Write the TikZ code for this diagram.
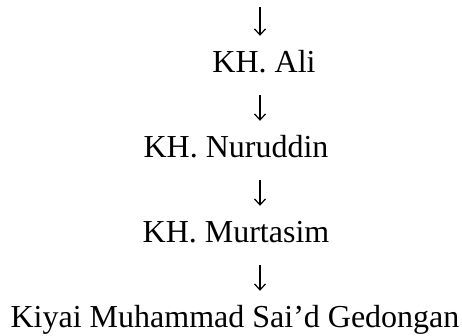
\documentclass[tikz,border=0pt]{standalone}
\usepackage{fontspec}
\setmainfont{Liberation Serif}
\usetikzlibrary{arrows.meta}
\begin{document}
\begin{tikzpicture}[x=1pt, y=1pt,
  person/.style={font=\fontsize{32}{38}\selectfont, anchor=base, inner xsep=0pt, inner ysep=15pt, text height=22pt, text depth=7pt},
  down/.style={line width=1.2pt, -{Straight Barb[length=6pt, width=11pt, line width=1.2pt]}}]
\useasboundingbox (0,0) rectangle (462,336);
\coordinate (Axis) at (260, 0);
\coordinate (Top) at (260, 329);

\node[person] (Ali) at (264, 263) {KH. Ali};
\node[person] (Nuruddin) at (236, 178) {KH. Nuruddin};
\node[person] (Murtasim) at (236, 93) {KH. Murtasim};
\node[person] (Kiyai) at (235, 8) {Kiyai Muhammad Sai’d Gedongan};

\draw[down] (Top) -- (Ali.north -| Axis);
\draw[down] (Ali.south -| Axis) -- (Nuruddin.north -| Axis);
\draw[down] (Nuruddin.south -| Axis) -- (Murtasim.north -| Axis);
\draw[down] (Murtasim.south -| Axis) -- (Kiyai.north -| Axis);
\end{tikzpicture}
\end{document}
